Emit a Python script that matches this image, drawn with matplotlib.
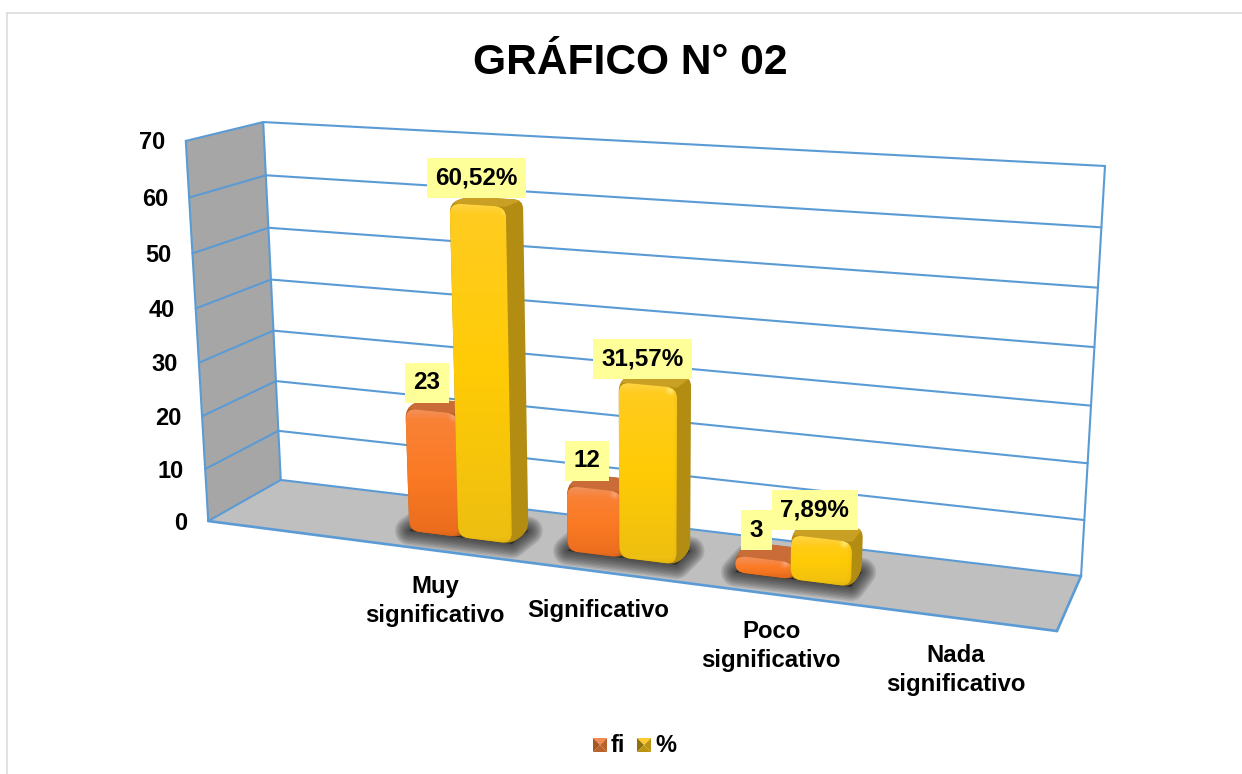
import numpy as np
import matplotlib
matplotlib.use("Agg")
import matplotlib.pyplot as plt
from matplotlib.path import Path
from matplotlib.patches import PathPatch, Polygon
from matplotlib.lines import Line2D

plt.rcParams['font.family'] = ['Liberation Sans', 'DejaVu Sans']

# ---- data
TITLE = "GRÁFICO N° 02"
categories = ["Muy\nsignificativo", "Significativo", "Poco\nsignificativo", "Nada\nsignificativo"]
series_names = ["fi", "%"]
fi_values = [23, 12, 3, 0]
pct_values = [60.52, 31.57, 7.89, 0]
fi_labels = ["23", "12", "3", None]
pct_labels = ["60,52%", "31,57%", "7,89%", None]
y_ticks = [0, 10, 20, 30, 40, 50, 60, 70]

# ---- layout / style
W, H = 1242, 774
LINE = '#5B9BD5'
XMIN, XMAX = -1.5, 3.5
YMAX = 70.0
FI_SPAN = (-0.30, 0.03)
PCT_SPAN = (0.015, 0.355)
D_BACK, D_FRONT = 0.42, 0.70

# Calibration of the 3-D box: (x fraction, y fraction, depth fraction) -> image pixel
calib = [((0, 1, 0), (263, 122)), ((1, 1, 0), (1105, 166)),
         ((0, 0, 0), (281, 480)), ((1, 0, 0), (1081, 576)),
         ((0, 1, 1), (186, 141)), ((0, 0, 1), (208, 521)),
         ((1, 0, 1), (1057, 631))]
A = []
for (X, Y, Z), (px, py) in calib:
    A.append([X, Y, Z, 1, 0, 0, 0, 0, -px*X, -px*Y, -px*Z, -px])
    A.append([0, 0, 0, 0, X, Y, Z, 1, -py*X, -py*Y, -py*Z, -py])
P = np.linalg.svd(np.array(A, float))[2][-1].reshape(3, 4)


def proj(x, y, d):
    """x: category units, y: value units, d: depth 0 (back) .. 1 (front)"""
    u = (x - XMIN) / (XMAX - XMIN)
    p = P @ np.array([u, y / YMAX, d, 1.0])
    return p[0] / p[2], p[1] / p[2]


fig = plt.figure(figsize=(W / 100, H / 100), dpi=100, facecolor='white')
ax = fig.add_axes([0, 0, 1, 1])
ax.set_axis_off()


def fix():
    ax.set_xlim(0, W)
    ax.set_ylim(H, 0)
    ax.set_aspect('auto')


fix()

# chart-area border
ax.add_line(Line2D([7, W], [13, 13], color='#DDDDDD', lw=1.2, zorder=1))
ax.add_line(Line2D([7, 7], [13, H], color='#DDDDDD', lw=1.2, zorder=1))

# walls and floor
wall = [proj(XMIN, YMAX, 0), proj(XMIN, YMAX, 1), proj(XMIN, 0, 1), proj(XMIN, 0, 0)]
floor = [proj(XMIN, 0, 0), proj(XMAX, 0, 0), proj(XMAX, 0, 1), proj(XMIN, 0, 1)]
ax.add_patch(Polygon(wall, closed=True, fc='#A6A6A6', ec='none', zorder=2))
floor_patch = Polygon(floor, closed=True, fc='#BFBFBF', ec='none', zorder=2)
ax.add_patch(floor_patch)


def seg(a, b, lw=1.5):
    ax.add_line(Line2D([a[0], b[0]], [a[1], b[1]], color=LINE, lw=lw, zorder=3,
                       solid_capstyle='round'))


for t in y_ticks:
    seg(proj(XMIN, t, 1), proj(XMIN, t, 0))
    seg(proj(XMIN, t, 0), proj(XMAX, t, 0))
seg(proj(XMIN, 0, 0), proj(XMIN, YMAX, 0))
seg(proj(XMAX, 0, 0), proj(XMAX, YMAX, 0))
seg(proj(XMIN, 0, 1), proj(XMIN, YMAX, 1))
seg(proj(XMIN, 0, 1), proj(XMAX, 0, 1), 1.9)
seg(proj(XMAX, 0, 1), proj(XMAX, 0, 0), 1.9)


def rounded(pts, r):
    pts = [np.array(p, float) for p in pts]
    n = len(pts)
    verts, codes = [], []
    for i in range(n):
        p, a, b = pts[i], pts[i - 1], pts[(i + 1) % n]
        la, lb = np.linalg.norm(a - p), np.linalg.norm(b - p)
        ra = min(r, la * 0.45)
        rb = min(r, lb * 0.45)
        s = p + (a - p) / la * ra
        e = p + (b - p) / lb * rb
        verts += [s, p, e]
        codes += [Path.MOVETO if i == 0 else Path.LINETO, Path.CURVE3, Path.CURVE3]
    verts.append(verts[0])
    codes.append(Path.CLOSEPOLY)
    return Path(verts, codes)


def hexc(c):
    return np.array(matplotlib.colors.to_rgb(c))


PAL = {
    'fi': dict(hi='#F2915C', top='#F8833A', mid='#FB7A24', bot='#E96C1C',
               cap='#C96C38', side='#B5601F', spec='#F6A070'),
    'pct': dict(hi='#FFD445', top='#FFCC22', mid='#FFCB05', bot='#EDBE12',
                cap='#C9A024', side='#B38C12', spec='#FFE56A'),
}


def front_face(pts, pal, z):
    xs = [p[0] for p in pts]
    ys = [p[1] for p in pts]
    x0, x1, y0, y1 = min(xs), max(xs), min(ys), max(ys)
    w, h = max(int(x1 - x0) + 2, 2), max(int(y1 - y0) + 2, 2)
    yy, xx = np.mgrid[0:h, 0:w].astype(float)
    fy = (yy / max(h - 1, 1))[..., None]
    c = np.where(fy < .5, hexc(pal['top']) + (hexc(pal['mid']) - hexc(pal['top'])) * fy * 2,
                 hexc(pal['mid']) + (hexc(pal['bot']) - hexc(pal['mid'])) * (fy - .5) * 2)
    k = np.clip(1 - yy / 11.0, 0, 1)[..., None]
    c = c + (hexc(pal['hi']) - c) * k
    k = np.clip(1 - (h - 1 - yy) / 7.0, 0, 1)[..., None]
    c = c * (1 - 0.07 * k)
    k = np.clip(1 - (w - 1 - xx) / 6.0, 0, 1)[..., None]
    c = c * (1 - 0.04 * k)
    d2 = (xx - (w - 9)) ** 2 + (yy - 8) ** 2
    k = np.exp(-d2 / 14.0)[..., None]
    c = c + (hexc(pal['spec']) - c) * k
    im = ax.imshow(np.clip(c, 0, 1), extent=[x0, x0 + w, y0 + h, y0], zorder=z,
                   interpolation='bilinear')
    patch = PathPatch(rounded(pts, 11), transform=ax.transData, fc='none', ec='none')
    ax.add_patch(patch)
    im.set_clip_path(patch)
    fix()


def box(x0, x1, v, pal, z):
    ftl, ftr = proj(x0, v, D_FRONT), proj(x1, v, D_FRONT)
    fbl, fbr = proj(x0, 0, D_FRONT), proj(x1, 0, D_FRONT)
    btl, btr = proj(x0, v, D_BACK), proj(x1, v, D_BACK)
    bbr = proj(x1, 0, D_BACK)
    sil = PathPatch(rounded([ftl, btl, btr, bbr, fbr, fbl], 9), fc=pal['side'], ec='none', zorder=z)
    ax.add_patch(sil)
    cap = Polygon([ftl, btl, btr, ftr], closed=True, fc=pal['cap'], ec='none', zorder=z + 0.05)
    ax.add_patch(cap)
    cap.set_clip_path(sil)
    front_face([ftl, ftr, fbr, fbl], pal, z + 0.1)


def shadow(x0, x1):
    pts = [proj(x0, 0, D_BACK), proj(x1, 0, D_BACK), proj(x1, 0, D_FRONT), proj(x0, 0, D_FRONT)]
    for k in range(1, 11):
        p = Polygon(pts, closed=True, fc='#222222', ec='#222222', lw=2.9 * k * 0.72,
                    joinstyle='round', alpha=0.115, zorder=4)
        ax.add_patch(p)
        p.set_clip_path(floor_patch)


# bars, drawn from the data arrays
for i, (a, b) in enumerate(zip(fi_values, pct_values)):
    if a == 0 and b == 0:
        continue
    shadow(i + FI_SPAN[0], i + PCT_SPAN[1])
    z = 5 + i
    box(i + FI_SPAN[0], i + FI_SPAN[1], a, PAL['fi'], z)
    box(i + PCT_SPAN[0], i + PCT_SPAN[1], b, PAL['pct'], z + 0.3)

# data labels, offset in pixels from the bar's top
lab_kw = dict(ha='center', va='center', fontsize=17.5, fontweight='bold', color='black', zorder=20,
              bbox=dict(boxstyle='square,pad=0.35', fc='#FFFF99', ec='none'))
FI_OFF = [(-22.5, -18), (-22, -16), (-20, -15), (0, 0)]
PCT_OFF = [(-19, -20), (-20, -16), (-18, -15), (0, 0)]
for i in range(len(categories)):
    if fi_labels[i]:
        x, y = proj(i + sum(FI_SPAN) / 2, fi_values[i], D_BACK)
        ax.text(x + FI_OFF[i][0], y + FI_OFF[i][1], fi_labels[i], **lab_kw)
    if pct_labels[i]:
        x, y = proj(i + sum(PCT_SPAN) / 2, pct_values[i], D_BACK)
        ax.text(x + PCT_OFF[i][0], y + PCT_OFF[i][1], pct_labels[i], **lab_kw)

# y tick labels
for t in y_ticks:
    x, y = proj(XMIN, t, 1)
    ax.text(x - 21, y + 2, str(t), ha='right', va='center', fontsize=17, fontweight='bold', color='black')

# category labels
CAT_X = [435, 598, 771, 956]
CAT_Y = [601, 611, 646, 670]
for c, x, y in zip(categories, CAT_X, CAT_Y):
    ax.text(x, y, c, ha='center', va='center', fontsize=17.2, fontweight='bold', color='black',
            linespacing=1.28)

# title
ax.text(630, 63, TITLE, ha='center', va='center', fontsize=30.6, fontweight='bold', color='black')


# legend
def legend_key(x0, y0, s, light, dark, mid):
    c = (x0 + s / 2, y0 + s / 2)
    tl, tr, br, bl = (x0, y0), (x0 + s, y0), (x0 + s, y0 + s), (x0, y0 + s)
    ax.add_patch(Polygon([tl, tr, c], fc=light, ec='none', zorder=5))
    ax.add_patch(Polygon([tl, bl, c], fc=dark, ec='none', zorder=5))
    ax.add_patch(Polygon([tr, br, c], fc=mid, ec='none', zorder=5))
    ax.add_patch(Polygon([bl, br, c], fc=mid, ec='none', zorder=5))


legend_key(593, 738, 14, '#F08A4E', '#A5571F', '#B9622A')
legend_key(637, 738, 14, '#FFCB2E', '#8F720C', '#BB9412')
ax.text(611, 745, series_names[0], ha='left', va='center', fontsize=17, fontweight='bold')
ax.text(655, 745, series_names[1], ha='left', va='center', fontsize=17, fontweight='bold')

fix()
fig.savefig('out.png', dpi=100, facecolor='white')
